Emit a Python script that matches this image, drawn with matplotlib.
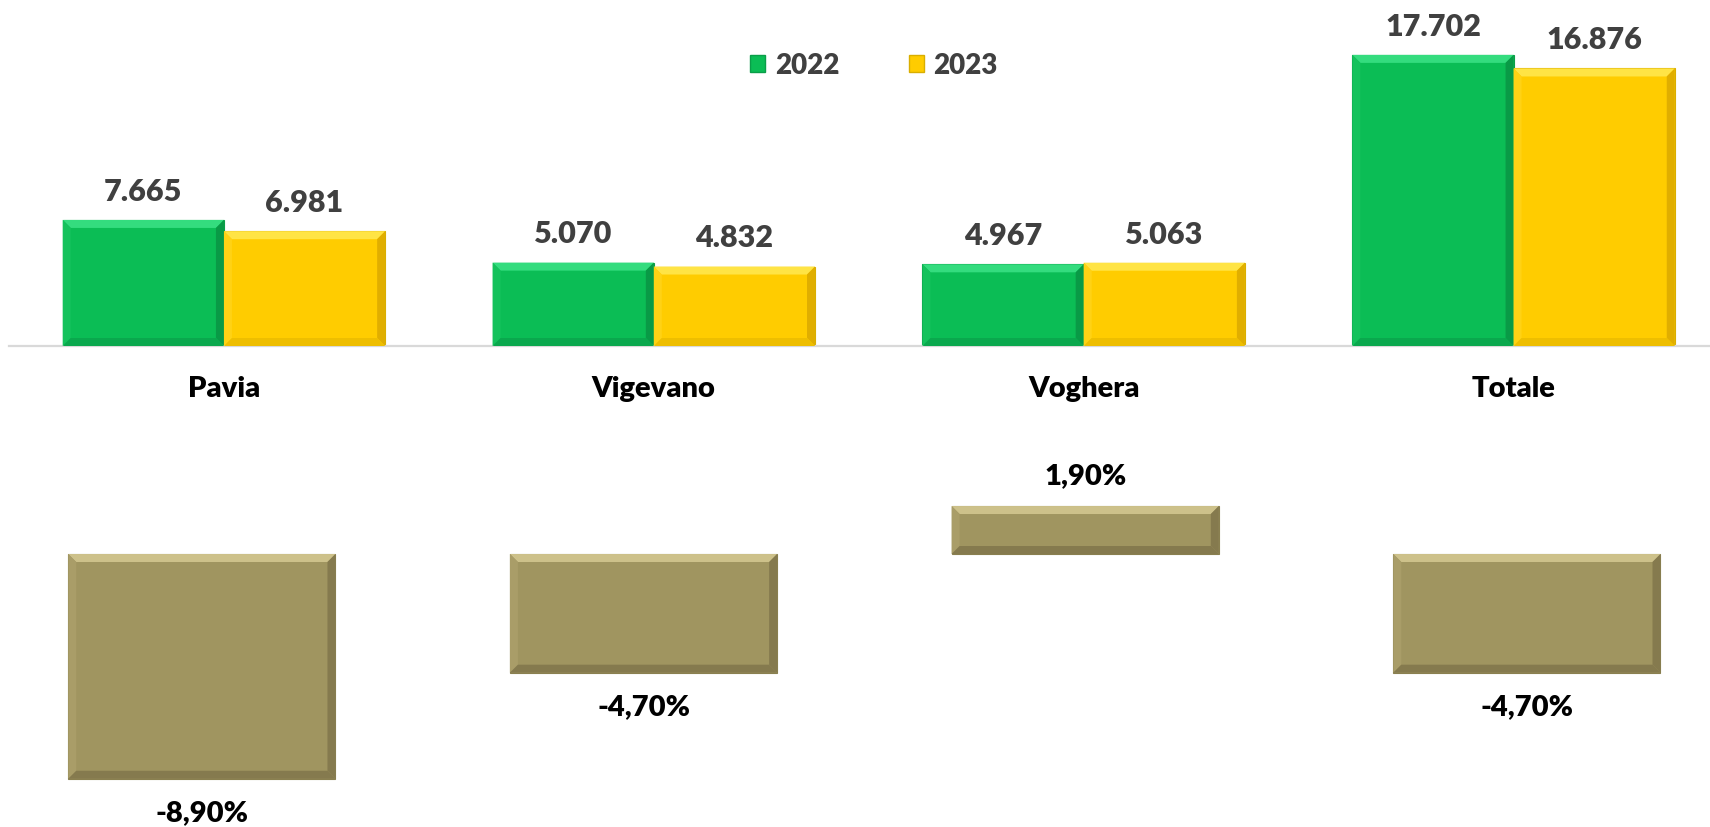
import matplotlib
matplotlib.use("Agg")
import matplotlib.pyplot as plt
from matplotlib.patches import Polygon, Patch
from matplotlib.transforms import IdentityTransform
import numpy as np

plt.rcParams['font.family'] = ['Lato', 'DejaVu Sans']
WEIGHT = "heavy"

categories = ["Pavia", "Vigevano", "Voghera", "Totale"]
values_2022 = [7665, 5070, 4967, 17702]
values_2023 = [6981, 4832, 5063, 16876]
labels_2022 = ["7.665", "5.070", "4.967", "17.702"]
labels_2023 = ["6.981", "4.832", "5.063", "16.876"]
variation = [-8.9, -4.7, 1.9, -4.7]
variation_labels = ["-8,90%", "-4,70%", "1,90%", "-4,70%"]
series_names = ["2022", "2023"]

GREEN = "#0BBD55"
YELLOW = "#FFCC00"
OLIVE = "#A09560"
TEXT_GRAY = "#404040"

W, H, DPI = 1710, 828, 100
fig = plt.figure(figsize=(W / DPI, H / DPI), dpi=DPI)

# ---------- top panel ----------
ax1 = fig.add_axes([9 / W, 1 - 347 / H, 1 - 9 / W, 347 / H])
x = np.arange(len(categories))
bw = 0.375
b1 = ax1.bar(x - bw / 2, values_2022, bw, color=GREEN, edgecolor="#0A9E48", linewidth=0.8)
b2 = ax1.bar(x + bw / 2, values_2023, bw, color=YELLOW, edgecolor="#D9AE00", linewidth=0.8)
ax1.set_xlim(-0.5, 3.457)
ax1.set_ylim(0, 21100)
for s in ["top", "left", "right"]:
    ax1.spines[s].set_visible(False)
ax1.spines["bottom"].set_color("#D9D9D9")
ax1.spines["bottom"].set_linewidth(1.6)
ax1.set_yticks([])
ax1.set_xticks([])

for bars, labs in ((b1, labels_2022), (b2, labels_2023)):
    for bar, lab in zip(bars, labs):
        ax1.annotate(lab, (bar.get_x() + bar.get_width() / 2, bar.get_height()),
                     xytext=(0, 21), textcoords="offset points", ha="center", va="center",
                     fontsize=22, fontweight=WEIGHT, color=TEXT_GRAY)

for xi, cat in zip(x, categories):
    ax1.annotate(cat, (xi, 0), xytext=(0, -30), textcoords="offset points",
                 ha="center", va="center", fontsize=21, fontweight=WEIGHT, color="black",
                 annotation_clip=False)

# ---------- bottom panel ----------
ax2 = fig.add_axes([0, 0, 1, (828 - 430) / H])
bw2 = 0.605
b3 = ax2.bar(x, variation, bw2, color=OLIVE, edgecolor="#8A8050", linewidth=0.8)
ax2.set_xlim(-0.457, 3.4146)
ax2.set_ylim(-10.81, 4.95)
ax2.axis("off")
for bar, v, lab in zip(b3, variation, variation_labels):
    off = 22 if v > 0 else -24
    ax2.annotate(lab, (bar.get_x() + bar.get_width() / 2, v), xytext=(0, off),
                 textcoords="offset points", ha="center", va="center",
                 fontsize=21, fontweight=WEIGHT, color="black")

# ---------- bevel effect ----------
def bevel(ax, bars, top_c, left_c, right_c, bot_c, d=8):
    fig.canvas.draw()
    for bar in bars:
        (x0, y0), (x1, y1) = ax.transData.transform(
            [(bar.get_x(), min(0, bar.get_height())),
             (bar.get_x() + bar.get_width(), max(0, bar.get_height()))])
        dd = min(d, (y1 - y0) / 2.5, (x1 - x0) / 2.5)
        polys = [
            ([(x0, y1), (x1, y1), (x1 - dd, y1 - dd), (x0 + dd, y1 - dd)], top_c),
            ([(x0, y0), (x0, y1), (x0 + dd, y1 - dd), (x0 + dd, y0 + dd)], left_c),
            ([(x1, y0), (x1, y1), (x1 - dd, y1 - dd), (x1 - dd, y0 + dd)], right_c),
            ([(x0, y0), (x1, y0), (x1 - dd, y0 + dd), (x0 + dd, y0 + dd)], bot_c),
        ]
        for pts, c in polys:
            fig.patches.append(Polygon(pts, closed=True, facecolor=c, edgecolor="none",
                                       transform=IdentityTransform(), figure=fig,
                                       zorder=3))

bevel(ax1, b1, "#34DC7E", "#14C25C", "#099A46", "#0AA84D")
bevel(ax1, b2, "#FFE445", "#FFD215", "#E0AE00", "#EEBE00")
bevel(ax2, b3, "#CDC18A", "#A99D68", "#857A4E", "#857A4E")

# ---------- legend ----------
handles = [Patch(facecolor=GREEN, edgecolor="#0A9E48"), Patch(facecolor=YELLOW, edgecolor="#D9AE00")]
leg = fig.legend(handles, series_names, loc="center", bbox_to_anchor=(0.511, 0.92),
                 ncol=2, frameon=False, handlelength=0.55, handleheight=0.55,
                 handletextpad=0.35, columnspacing=2.5, borderpad=0,
                 prop={"family": ["Lato", "DejaVu Sans"], "weight": WEIGHT, "size": 20})
for t in leg.get_texts():
    t.set_color(TEXT_GRAY)

fig.savefig("out.png", dpi=DPI)
